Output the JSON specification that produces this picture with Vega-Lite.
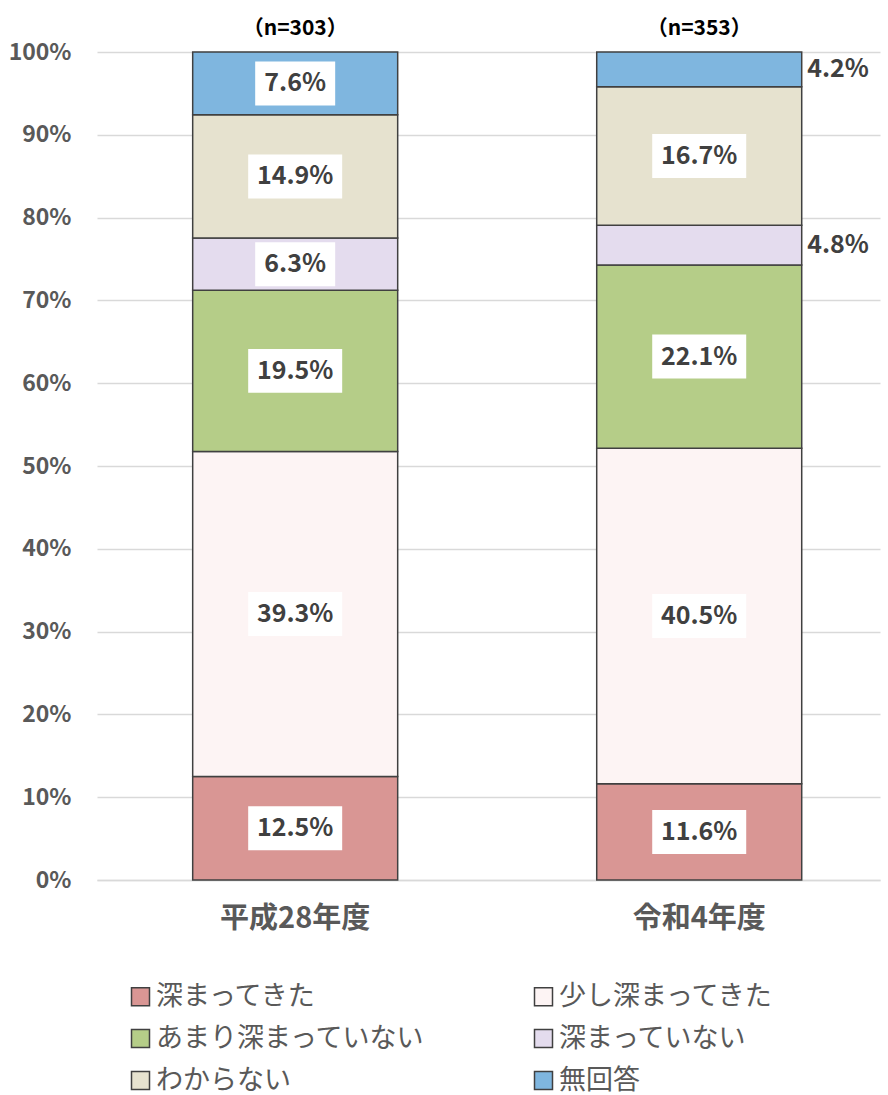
{
  "$schema": "https://vega.github.io/schema/vega-lite/v6.json",
  "width": 783,
  "height": 828,
  "autosize": {"type": "none"},
  "padding": {"left": 97, "top": 52, "right": 8, "bottom": 215},
  "background": "white",
  "config": {
    "view": {"stroke": null},
    "font": "Noto Sans CJK JP",
    "axisY": {"title": null, "format": ".0%", "grid": true, "gridColor": "#D9D9D9", "gridWidth": 1.5, "domain": false, "ticks": false, "labelPadding": 26, "labelFontSize": 23, "labelColor": "#595959", "labelFontWeight": "bold"},
    "axisX": {"title": null, "labelAngle": 0, "labelFontSize": 29, "labelFontWeight": "bold", "labelColor": "#595959", "ticks": false, "domain": true, "domainColor": "#D9D9D9", "domainWidth": 1.5, "labelPadding": 24}
  },
  "datasets": {
    "main": [
      {"year": "平成28年度", "cat": "深まってきた", "order": 1, "value": 12.5},
      {"year": "平成28年度", "cat": "少し深まってきた", "order": 2, "value": 39.3},
      {"year": "平成28年度", "cat": "あまり深まっていない", "order": 3, "value": 19.5},
      {"year": "平成28年度", "cat": "深まっていない", "order": 4, "value": 6.3},
      {"year": "平成28年度", "cat": "わからない", "order": 5, "value": 14.9},
      {"year": "平成28年度", "cat": "無回答", "order": 6, "value": 7.6},
      {"year": "令和4年度", "cat": "深まってきた", "order": 1, "value": 11.6},
      {"year": "令和4年度", "cat": "少し深まってきた", "order": 2, "value": 40.5},
      {"year": "令和4年度", "cat": "あまり深まっていない", "order": 3, "value": 22.1},
      {"year": "令和4年度", "cat": "深まっていない", "order": 4, "value": 4.8},
      {"year": "令和4年度", "cat": "わからない", "order": 5, "value": 16.7},
      {"year": "令和4年度", "cat": "無回答", "order": 6, "value": 4.2}
    ],
    "ns": [
      {"year": "平成28年度", "n": "（n=303）"},
      {"year": "令和4年度", "n": "（n=353）"}
    ]
  },
  "layer": [
    {
      "data": {"name": "main"},
      "transform": [
        {"stack": "value", "groupby": ["year"], "sort": [{"field": "order", "order": "ascending"}], "as": ["y0", "y1"], "offset": "normalize"}
      ],
      "mark": {"type": "bar", "stroke": "#404040", "strokeWidth": 1.5},
      "encoding": {
        "x": {
          "field": "year", "type": "nominal", "sort": ["平成28年度", "令和4年度"], "title": null,
          "scale": {"paddingInner": 0.4926, "paddingOuter": 0.2153, "align": 0.55}
        },
        "y": {
          "field": "y0", "type": "quantitative", "title": null,
          "scale": {"domain": [0, 1], "nice": false},
          "axis": {"values": [0, 0.1, 0.2, 0.3, 0.4, 0.5, 0.6, 0.7, 0.8, 0.9, 1]}
        },
        "y2": {"field": "y1"},
        "fill": {
          "field": "cat", "type": "nominal",
          "scale": {
            "domain": ["深まってきた", "少し深まってきた", "あまり深まっていない", "深まっていない", "わからない", "無回答"],
            "range": ["#D99694", "#FDF4F4", "#B5CD88", "#E4DCEE", "#E6E2CF", "#7FB6DF"]
          },
          "legend": {
            "title": null, "orient": "none", "legendX": 30, "legendY": 931, "columns": 2, "direction": "horizontal",
            "symbolType": "square", "symbolSize": 324, "symbolStrokeColor": "#404040", "symbolStrokeWidth": 1.5,
            "labelFontSize": 27, "labelColor": "#595959", "rowPadding": 14, "columnPadding": 104, "labelOffset": 2, "labelLimit": 400
          }
        },
        "order": {"field": "order"}
      }
    },
    {
      "data": {"name": "main"},
      "transform": [
        {"stack": "value", "groupby": ["year"], "sort": [{"field": "order", "order": "ascending"}], "as": ["y0", "y1"], "offset": "normalize"},
        {"calculate": "(datum.y0 + datum.y1) / 2", "as": "mid"},
        {"filter": "datum.value >= 10"}
      ],
      "mark": {"type": "point", "shape": "M-1,-0.468L1,-0.468L1,0.468L-1,0.468Z", "size": 8836, "filled": true, "color": "white", "opacity": 1, "strokeWidth": 0},
      "encoding": {
        "x": {"field": "year", "type": "nominal", "sort": ["平成28年度", "令和4年度"], "title": null},
        "y": {"field": "mid", "type": "quantitative", "title": null}
      }
    },
    {
      "data": {"name": "main"},
      "transform": [
        {"stack": "value", "groupby": ["year"], "sort": [{"field": "order", "order": "ascending"}], "as": ["y0", "y1"], "offset": "normalize"},
        {"calculate": "(datum.y0 + datum.y1) / 2", "as": "mid"},
        {"filter": "datum.value >= 5 && datum.value < 10"}
      ],
      "mark": {"type": "point", "shape": "M-1,-0.55L1,-0.55L1,0.55L-1,0.55Z", "size": 6400, "filled": true, "color": "white", "opacity": 1, "strokeWidth": 0},
      "encoding": {
        "x": {"field": "year", "type": "nominal", "sort": ["平成28年度", "令和4年度"], "title": null},
        "y": {"field": "mid", "type": "quantitative", "title": null}
      }
    },
    {
      "data": {"name": "main"},
      "transform": [
        {"stack": "value", "groupby": ["year"], "sort": [{"field": "order", "order": "ascending"}], "as": ["y0", "y1"], "offset": "normalize"},
        {"calculate": "(datum.y0 + datum.y1) / 2", "as": "mid"},
        {"calculate": "format(datum.value, '.1f') + '%'", "as": "label"},
        {"filter": "datum.value >= 5"}
      ],
      "mark": {"type": "text", "fontSize": 25, "fontWeight": "bold", "color": "#404040", "baseline": "middle", "align": "center"},
      "encoding": {
        "x": {"field": "year", "type": "nominal", "sort": ["平成28年度", "令和4年度"], "title": null},
        "y": {"field": "mid", "type": "quantitative", "title": null},
        "text": {"field": "label"}
      }
    },
    {
      "data": {"name": "main"},
      "transform": [
        {"stack": "value", "groupby": ["year"], "sort": [{"field": "order", "order": "ascending"}], "as": ["y0", "y1"], "offset": "normalize"},
        {"calculate": "(datum.y0 + datum.y1) / 2", "as": "mid"},
        {"calculate": "format(datum.value, '.1f') + '%'", "as": "label"},
        {"filter": "datum.value < 5"}
      ],
      "mark": {"type": "text", "fontSize": 25, "fontWeight": "bold", "color": "#404040", "baseline": "middle", "align": "left", "dx": 108},
      "encoding": {
        "x": {"field": "year", "type": "nominal", "sort": ["平成28年度", "令和4年度"], "title": null},
        "y": {"field": "mid", "type": "quantitative", "title": null},
        "text": {"field": "label"}
      }
    },
    {
      "data": {"name": "ns"},
      "mark": {"type": "text", "fontSize": 21, "fontWeight": "bold", "color": "#000000", "baseline": "middle", "align": "center", "dy": -23},
      "encoding": {
        "x": {"field": "year", "type": "nominal", "sort": ["平成28年度", "令和4年度"], "title": null},
        "y": {"datum": 1, "type": "quantitative", "title": null},
        "text": {"field": "n"}
      }
    }
  ]
}
